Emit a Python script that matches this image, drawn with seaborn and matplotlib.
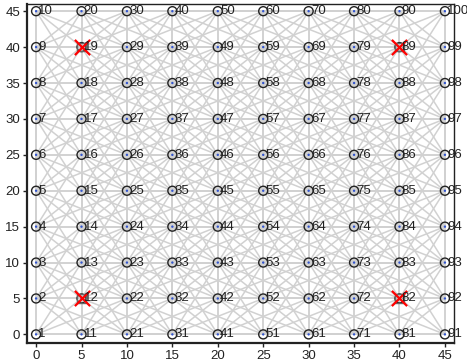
import numpy as np
import pandas as pd
import matplotlib
matplotlib.use("Agg")
import matplotlib.pyplot as plt
import seaborn as sns
from matplotlib.collections import LineCollection

# Grid coordinates of nodes (10 x 10)
grid_x = [0, 5, 10, 15, 20, 25, 30, 35, 40, 45]
grid_y = [0, 5, 10, 15, 20, 25, 30, 35, 40, 45]
anchor_ids = [12, 19, 82, 89]
comm_radius = 11.5
x_ticks = [0, 5, 10, 15, 20, 25, 30, 35, 40, 45]
y_ticks = [0, 5, 10, 15, 20, 25, 30, 35, 40, 45]

node_id, node_x, node_y = [], [], []
k = 1
for gx in grid_x:
    for gy in grid_y:
        node_id.append(k); node_x.append(gx); node_y.append(gy); k += 1
df = pd.DataFrame({"id": node_id, "x": node_x, "y": node_y})

sns.set_style("white")
plt.rcParams['font.family'] = ['Liberation Sans', 'DejaVu Sans']

fig = plt.figure(figsize=(4.67, 3.63), dpi=100)
ax = fig.add_axes([27/467, 1-343/363, (454-27)/467, (343-4)/363])

# edges
segs = []
P = df[["x", "y"]].to_numpy()
for i in range(len(P)):
    for j in range(i+1, len(P)):
        if np.hypot(*(P[i]-P[j])) <= comm_radius:
            segs.append([P[i], P[j]])
ax.add_collection(LineCollection(segs, colors=(0.82, 0.82, 0.82), linewidths=1.1, zorder=1))

sns.scatterplot(data=df, x="x", y="y", ax=ax, s=42, facecolor="none",
                edgecolor="#222222", linewidth=1.0, zorder=3, legend=False)
sns.scatterplot(data=df, x="x", y="y", ax=ax, s=3, color="#3355cc",
                edgecolor="none", zorder=4, legend=False)
anc = df[df["id"].isin(anchor_ids)]
sns.scatterplot(data=anc, x="x", y="y", ax=ax, marker="s", s=40, facecolor="none",
                edgecolor="#666666", linewidth=1.0, zorder=4, legend=False)
sns.scatterplot(data=anc, x="x", y="y", ax=ax, marker="x", s=120, color="red",
                linewidth=1.6, zorder=5, legend=False)

for _, r in df.iterrows():
    ax.text(r.x + 0.25, r.y, str(int(r.id)), fontsize=9.5, ha="left", va="center",
            color="#222222", zorder=6, clip_on=False)

ax.set_xlim(-1, 46)
ax.set_ylim(-1.2, 46)
ax.set_xticks(x_ticks)
ax.set_yticks(y_ticks)
ax.set_xlabel("")
ax.set_ylabel("")
ax.tick_params(direction="out", length=3, width=1, labelsize=9.5, pad=2,
               bottom=True, left=True, colors="#222222")
for s in ["left", "bottom"]:
    ax.spines[s].set_linewidth(1.6)
    ax.spines[s].set_color("#222222")
for s in ["top", "right"]:
    ax.spines[s].set_linewidth(1.0)
    ax.spines[s].set_color("#222222")

fig.savefig("out.png", dpi=100)
